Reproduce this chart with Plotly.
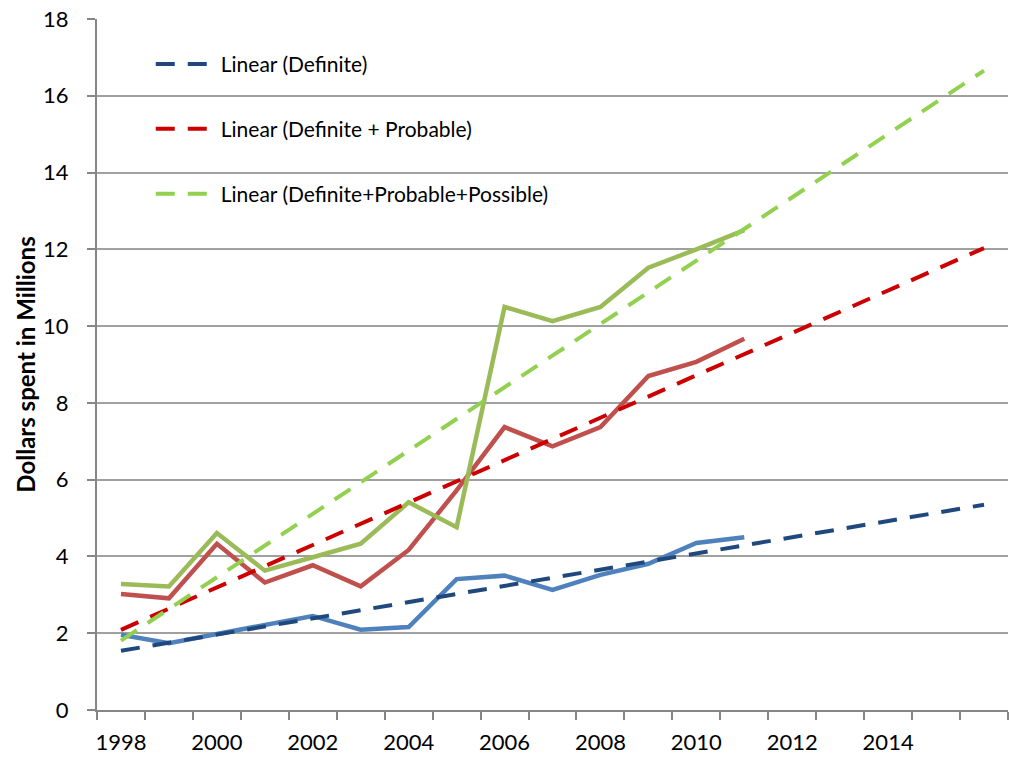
import numpy as np
import plotly.graph_objects as go

years = list(range(1998, 2012))
forecast_end = 2016
definite = [1.96, 1.74, 1.98, 2.22, 2.45, 2.09, 2.16, 3.41, 3.50, 3.13, 3.52, 3.81, 4.35, 4.50]
def_prob = [3.02, 2.91, 4.33, 3.32, 3.77, 3.22, 4.17, 5.72, 7.37, 6.87, 7.37, 8.70, 9.07, 9.67]
def_prob_poss = [3.28, 3.22, 4.61, 3.63, 3.98, 4.33, 5.41, 4.76, 10.50, 10.13, 10.50, 11.52, 12.00, 12.50]

tick_years = list(range(1998, 2015, 2))
y_ticks = list(range(0, 19, 2))

series = [
    ("Definite", definite, "#4F81BD", "#1F497D", "Linear (Definite)"),
    ("Definite + Probable", def_prob, "#C0504D", "#CC0000", "Linear (Definite + Probable)"),
    ("Definite+Probable+Possible", def_prob_poss, "#9BBB59", "#92D050", "Linear (Definite+Probable+Possible)"),
]

fig = go.Figure()
for name, vals, col, tcol, tname in series:
    fig.add_trace(go.Scatter(x=years, y=vals, mode="lines", name=name,
                             line=dict(color=col, width=4.5), showlegend=False))

trend_x = np.arange(years[0], forecast_end + 1)
for i, (name, vals, col, tcol, tname) in enumerate(series):
    slope, icpt = np.polyfit(np.array(years, dtype=float), np.array(vals), 1)
    fig.add_trace(go.Scatter(x=trend_x, y=slope * trend_x + icpt, mode="lines", name=tname,
                             legendgroup=f"g{i}",
                             line=dict(color=tcol, width=4, dash="19px,13px")))

font_main = "Lato, Open Sans, sans-serif"
fig.update_layout(
    width=1009, height=757,
    margin=dict(l=97, r=1, t=19, b=47, autoexpand=False),
    paper_bgcolor="white", plot_bgcolor="white",
    font=dict(family=font_main, color="black"),
    legend=dict(x=0.059, y=0.964, xanchor="left", yanchor="top",
                bgcolor="rgba(0,0,0,0)", font=dict(size=21, family=font_main),
                tracegroupgap=34.5, itemwidth=60),
    showlegend=True,
)
fig.update_xaxes(
    range=[1997.5, 2016.5], tickvals=tick_years, ticktext=[str(t) for t in tick_years],
    ticks="", showgrid=False, zeroline=False, automargin=False,
    showline=True, linecolor="#868686", linewidth=2,
    tickfont=dict(size=22, family=font_main), ticklabelstandoff=12,
    ticklabeloverflow="allow",
    minor=dict(ticks="outside", tick0=1997.5, dtick=1, ticklen=8, tickcolor="#868686",
               tickwidth=1.5, showgrid=False),
)
fig.update_yaxes(
    range=[0, 18], tickvals=y_ticks, ticks="outside", ticklen=8, tickcolor="#868686",
    tickwidth=1.5, automargin=False,
    showgrid=True, gridcolor="#A0A0A0", gridwidth=1.8, zeroline=False,
    showline=True, linecolor="#868686", linewidth=2,
    tickfont=dict(size=22, family=font_main), ticklabelstandoff=14,
    ticklabeloverflow="allow",
    title=dict(text="<b>Dollars spent in Millions</b>", font=dict(size=24, family=font_main),
               standoff=1),
)
fig.write_html("out.html", config={"displayModeBar": False},
               post_script="document.body.style.margin='0';")
